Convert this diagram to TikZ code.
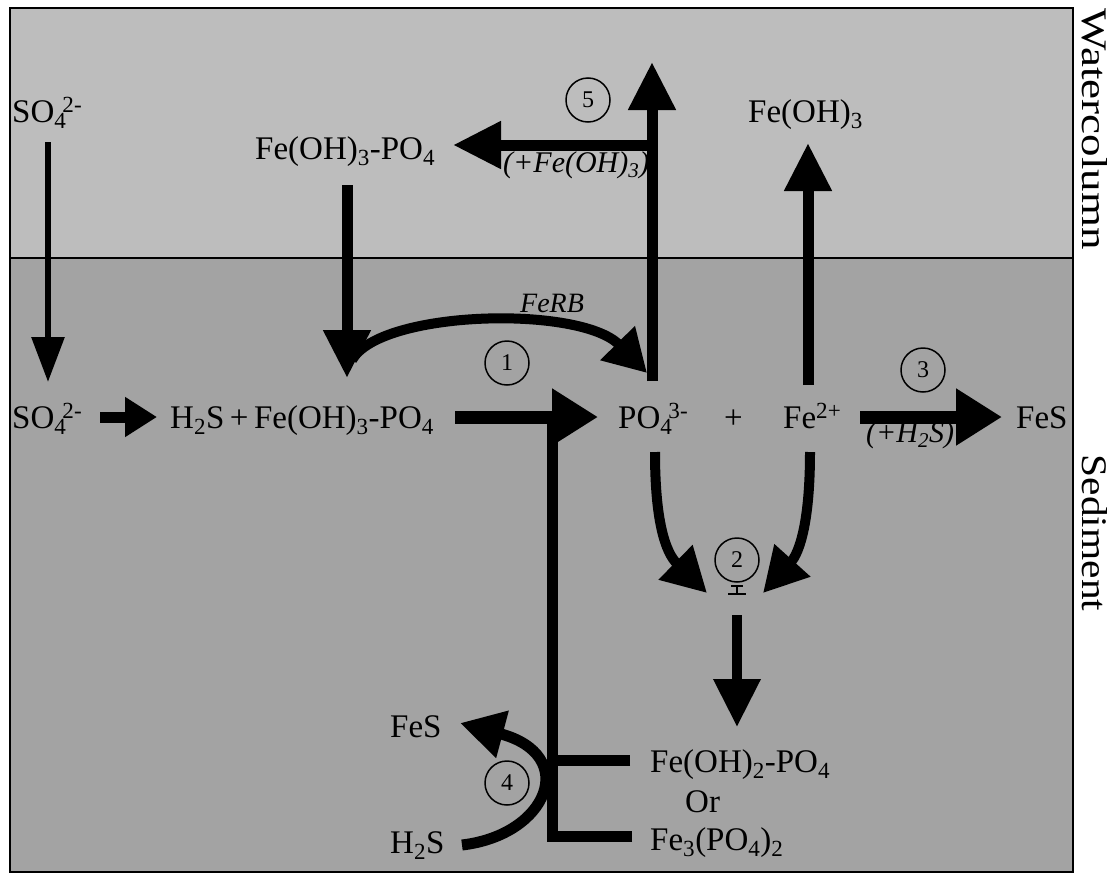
\documentclass[tikz,border=0pt]{standalone}
\usepackage{fontspec}
\setmainfont{Liberation Serif}
\usetikzlibrary{arrows.meta}
\newcommand{\chlo}[1]{\textsubscript{#1}}
\newcommand{\chhi}[1]{\textsuperscript{#1}}
\definecolor{waterfill}{gray}{0.74}
\definecolor{sedfill}{gray}{0.64}
\begin{document}
\begin{tikzpicture}[x=1pt,y=-1pt,
  txt/.style={font=\fontsize{33}{38}\selectfont, inner sep=0pt, anchor=base west},
  itx/.style={font=\fontsize{30}{36}\selectfont\itshape, inner sep=0pt, anchor=base west},
  side/.style={font=\fontsize{36}{42}\selectfont, inner sep=0pt, rotate=-90},
  num/.style={circle, draw, line width=1.5pt, minimum size=44pt, inner sep=0pt,
              font=\fontsize{24}{24}\selectfont},
  flow/.style={line width=11pt, -{Triangle[length=48pt,width=45pt]}},
  bigflow/.style={line width=13pt, -{Triangle[length=46pt,width=54pt]}},
  thinflow/.style={line width=6pt, -{Triangle[length=45pt,width=32pt]}},
  shortflow/.style={line width=11pt, -{Triangle[length=32pt,width=38pt]}},
  bar/.style={line width=11pt}]

\useasboundingbox (0,0) rectangle (1112,881);

% water column and sediment panels
\fill[waterfill] (10,8) rectangle (1073,258);
\fill[sedfill] (10,258) rectangle (1073,872);
\draw[line width=1.5pt] (10,258) -- (1073,258);
\draw[line width=2pt] (10,8) rectangle (1073,872);

\node[side] (wc) at (1095,129) {\scalebox{1.25}[1]{Watercolumn}};
\node[side] (sd) at (1095,533) {\scalebox{1.15}[1]{Sediment}};

% species in the water column
\node[txt] (so4w) at (12,122) {SO\chlo{4}\kern-.12em\chhi{2-}};
\node[txt] (fepw) at (255,159) {Fe(OH)\chlo{3}-PO\chlo{4}};
\node[txt] (feohw) at (748,122) {Fe(OH)\chlo{3}};

% species in the sediment
\node[txt] (so4s) at (12,428) {SO\chlo{4}\kern-.12em\chhi{2-}};
\node[txt] (mix) at (170,428) {H\chlo{2}S\,+\,Fe(OH)\chlo{3}-PO\chlo{4}};
\node[txt] (po4) at (618,428) {PO\chlo{4}\kern-.12em\chhi{3-}};
\node[txt] (plus) at (724,428) {+};
\node[txt] (fe2) at (783,428) {Fe\chhi{2+}};
\node[txt] (fesr) at (1016,428) {FeS};
\node[txt] (feoh2) at (650,772) {Fe(OH)\chlo{2}-PO\chlo{4}};
\node[txt] (or) at (685,812) {Or};
\node[txt] (fe3) at (650,850) {Fe\chlo{3}(PO\chlo{4})\chlo{2}};
\node[txt] (fesl) at (390,737) {FeS};
\node[txt] (h2s) at (390,853) {H\chlo{2}S};

% process labels
\node[itx] (l5) at (503,172) {(+Fe(OH)\chlo{3})};
\node[itx] (l3) at (866,442) {(+H\chlo{2}S)};
\node[itx, font=\fontsize{28}{34}\selectfont\itshape] (ferb) at (520,312) {FeRB};

\node[num] (c1) at (507,363) {1};
\node[num] (c2) at (737,560) {2};
\node[num] (c3) at (923,370) {3};
\node[num] (c4) at (507,783) {4};
\node[num] (c5) at (588,100) {5};

% end points of the connectors
\coordinate (so4wS) at (48,142);
\coordinate (so4sN) at (48,382);
\coordinate (so4sE) at (100,417);
\coordinate (mixW) at (157,417);
\coordinate (fepwS) at (347,185);
\coordinate (fepwT) at (347,378);
\coordinate (ferbA) at (352,360);
\coordinate (ferbB) at (647,373);
\coordinate (mixE) at (455,417);
\coordinate (po4W) at (598,417);
\coordinate (junc) at (552,417);
\coordinate (po4N) at (652,381);
\coordinate (topT) at (652,62);
\coordinate (ridge) at (652,145);
\coordinate (fepwE) at (453,145);
\coordinate (fe2N) at (808,385);
\coordinate (feohwS) at (808,143);
\coordinate (fe2E) at (860,417);
\coordinate (fesrW) at (1002,417);
\coordinate (po4S) at (655,452);
\coordinate (fe2S) at (810,452);
\coordinate (c2L) at (707,593);
\coordinate (c2R) at (763,593);
\coordinate (c2B) at (737,615);
\coordinate (feoh2N) at (737,727);
\coordinate (feoh2W) at (630,760);
\coordinate (fe3W) at (632,836);
\coordinate (h2sE) at (462,845);
\coordinate (feslE) at (460,723);

% sulphate supply and reduction
\draw[thinflow] (so4wS) -- (so4sN);
\draw[shortflow] (so4sE) -- (mixW);

% settling of iron-bound phosphate and its reduction by FeRB
\draw[flow] (fepwS) -- (fepwT);
\draw[line width=10pt, -{Triangle[length=42pt,width=46pt]}]
  (ferbA) .. controls (380,310) and (580,305) .. (ferbB);

% release of phosphate (1) and of iron-phosphate minerals (4)
\draw[bar, line cap=butt] (fe3W) -| (junc);
\draw[bar, line cap=butt] (feoh2W) -- (feoh2W -| junc);
\draw[bigflow] (mixE) -- (po4W);

% efflux of phosphate and re-capture by Fe(OH)3 (5)
\draw[flow] (po4N) -- (topT);
\draw[flow, line width=11pt] (ridge) -- (fepwE);

% oxidation of ferrous iron
\draw[flow] (fe2N) -- (feohwS);

% sulphide precipitation (3)
\draw[bigflow] (fe2E) -- (fesrW);

% iron phosphate formation (2)
\draw[line width=10pt, -{Triangle[length=44pt,width=46pt]}]
  (po4S) .. controls (655,520) and (665,552) .. (c2L);
\draw[line width=10pt, -{Triangle[length=44pt,width=46pt]}]
  (fe2S) .. controls (810,520) and (800,552) .. (c2R);
\draw[line width=2.5pt] (728,594) -- (746,594);
\draw[line width=1.8pt] (737,594) -- (737,586);
\draw[line width=1.2pt] (731,586) -- (743,586);
\draw[flow, line width=10pt] (c2B) -- (feoh2N);

% conversion to FeS by sulphide (4)
\draw[line width=11pt, line cap=butt, -{Triangle[length=44pt,width=46pt]}]
  (h2sE) .. controls (548,835) and (580,755) .. (feslE);

\end{tikzpicture}
\end{document}
